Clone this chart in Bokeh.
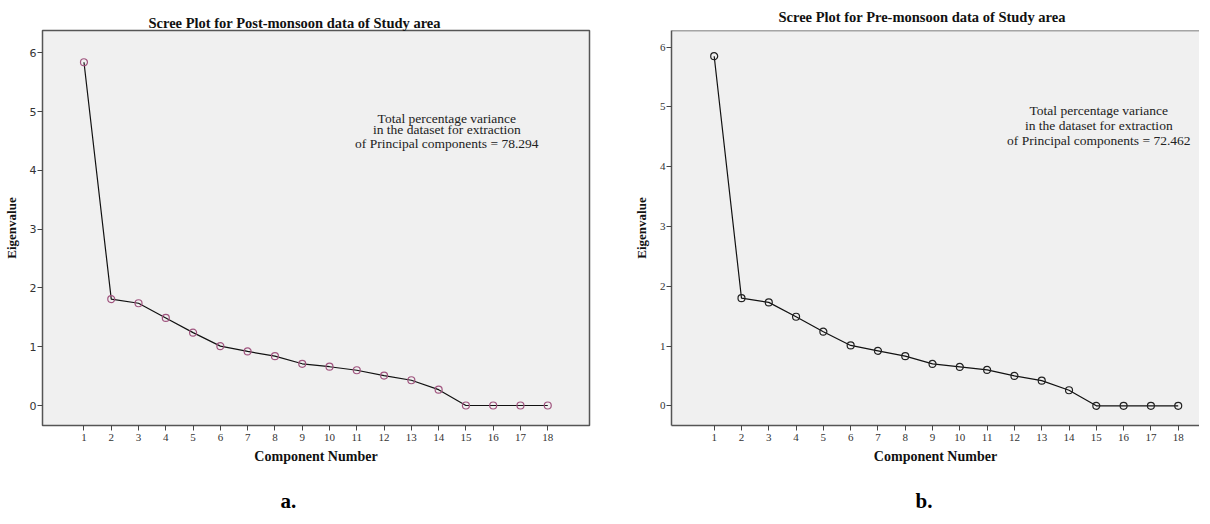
from bokeh.plotting import figure
from bokeh.models import FixedTicker, Label, Span, ColumnDataSource, Range1d, Title
from bokeh.layouts import row
from bokeh.embed import file_html
from bokeh.resources import INLINE

# ---------------- data ----------------
components = list(range(1, 19))
post_monsoon = [5.84, 1.81, 1.74, 1.49, 1.24, 1.01, 0.92, 0.84, 0.71,
                0.66, 0.60, 0.51, 0.43, 0.27, 0.0, 0.0, 0.0, 0.0]
pre_monsoon = [5.85, 1.80, 1.73, 1.49, 1.24, 1.01, 0.92, 0.83, 0.70,
               0.65, 0.60, 0.50, 0.42, 0.26, 0.0, 0.0, 0.0, 0.0]
y_ticks = [0, 1, 2, 3, 4, 5, 6]
titles = ["Scree Plot for Post-monsoon data of Study area",
          "Scree Plot for Pre-monsoon data of Study area"]
notes_post = ["Total percentage variance", "in the dataset for extraction",
              "of Principal components = 78.294"]
notes_pre = ["Total percentage variance", "in the dataset for extraction",
             "of Principal components = 72.462"]
panel_tags = ["a.", "b."]
x_label = "Component Number"
y_label = "Eigenvalue"

SERIF = "Liberation Serif"
SANS = "DejaVu Sans"
FRAME_BG = "#f0f0f0"
BORDER = "#555555"


def make_panel(values, title, notes, tag, marker_color, xr, yr, fw, fh,
               bl, br, bt, bb, note_x, note_ys, title_offset, title_standoff,
               tag_offset, tag_standoff, full_outline, ytick_font):
    p = figure(frame_width=fw, frame_height=fh,
               x_range=Range1d(*xr), y_range=Range1d(*yr),
               min_border_left=bl, min_border_right=br,
               min_border_top=bt, min_border_bottom=bb,
               output_backend="svg", toolbar_location=None,
               background_fill_color=FRAME_BG, border_fill_color="white")
    p.grid.visible = False
    if full_outline:
        p.outline_line_color = BORDER
        p.outline_line_width = 1.5
        p.xaxis.axis_line_color = None
        p.yaxis.axis_line_color = None
    else:
        p.outline_line_color = None
        p.xaxis.axis_line_color = BORDER
        p.xaxis.axis_line_width = 1.5
        p.yaxis.axis_line_color = BORDER
        p.yaxis.axis_line_width = 1.5
        p.add_layout(Span(location=yr[1], dimension="width",
                          line_color=BORDER, line_width=1.5))

    # x axis
    p.xaxis.ticker = FixedTicker(ticks=components)
    p.xaxis.minor_tick_line_color = None
    p.xaxis.major_tick_in = 0
    p.xaxis.major_tick_out = 5
    p.xaxis.major_tick_line_color = "#444444"
    p.xaxis.major_label_standoff = 3
    p.xaxis.major_label_text_font = SERIF
    p.xaxis.major_label_text_font_size = "11px"
    p.xaxis.major_label_text_color = "#333333"
    p.xaxis.axis_label = x_label
    p.xaxis.axis_label_text_font = SERIF
    p.xaxis.axis_label_text_font_style = "bold"
    p.xaxis.axis_label_text_font_size = "14px"
    p.xaxis.axis_label_text_color = "#111111"
    p.xaxis.axis_label_standoff = 5

    # y axis
    p.yaxis.ticker = FixedTicker(ticks=y_ticks)
    p.yaxis.minor_tick_line_color = None
    p.yaxis.major_tick_in = 0
    p.yaxis.major_tick_out = 5
    p.yaxis.major_tick_line_color = "#444444"
    p.yaxis.major_label_standoff = 1
    p.yaxis.major_label_text_font = ytick_font
    p.yaxis.major_label_text_font_size = "11px"
    p.yaxis.major_label_text_color = "#333333"
    p.yaxis.axis_label = y_label
    p.yaxis.axis_label_text_font = SERIF
    p.yaxis.axis_label_text_font_style = "bold"
    p.yaxis.axis_label_text_font_size = "13px"
    p.yaxis.axis_label_text_color = "#111111"
    p.yaxis.axis_label_standoff = 8

    src = ColumnDataSource(dict(x=components, y=values))
    p.line("x", "y", source=src, line_color="#111111", line_width=1.2)
    p.scatter("x", "y", source=src, marker="circle", size=7,
              fill_color=None, line_color=marker_color, line_width=1.2)

    for txt, ny in zip(notes, note_ys):
        p.add_layout(Label(x=note_x, y=ny, text=txt, text_align="center",
                           text_baseline="middle", text_font=SERIF,
                           text_font_size="13.5px", text_color="#222222"))

    p.add_layout(Title(text=title, align="left", offset=title_offset,
                       standoff=title_standoff, text_font=SERIF,
                       text_font_style="bold", text_font_size="14.5px",
                       text_color="#111111"), "above")
    p.add_layout(Title(text=tag, align="left", offset=tag_offset,
                       standoff=tag_standoff, text_font=SERIF,
                       text_font_style="bold", text_font_size="21px",
                       text_color="#000000"), "below")
    return p


p1 = make_panel(post_monsoon, titles[0], notes_post, panel_tags[0], "#a0557f",
                xr=(-0.52, 19.53), yr=(-0.34, 6.38), fw=547, fh=395,
                bl=42, br=38, bt=29, bb=94,
                note_x=14.30, note_ys=[4.885, 4.70, 4.46],
                title_offset=106, title_standoff=0,
                tag_offset=238, tag_standoff=41,
                full_outline=True, ytick_font=SANS)
p2 = make_panel(pre_monsoon, titles[1], notes_pre, panel_tags[1], "#222222",
                xr=(-0.564, 18.78), yr=(-0.33, 6.28), fw=528, fh=395,
                bl=44, br=0, bt=29, bb=94,
                note_x=15.09, note_ys=[4.936, 4.683, 4.443],
                title_offset=107, title_standoff=12,
                tag_offset=244, tag_standoff=41,
                full_outline=False, ytick_font=SERIF)

layout = row(p1, p2)
open("out.html", "w").write(file_html(layout, INLINE))
